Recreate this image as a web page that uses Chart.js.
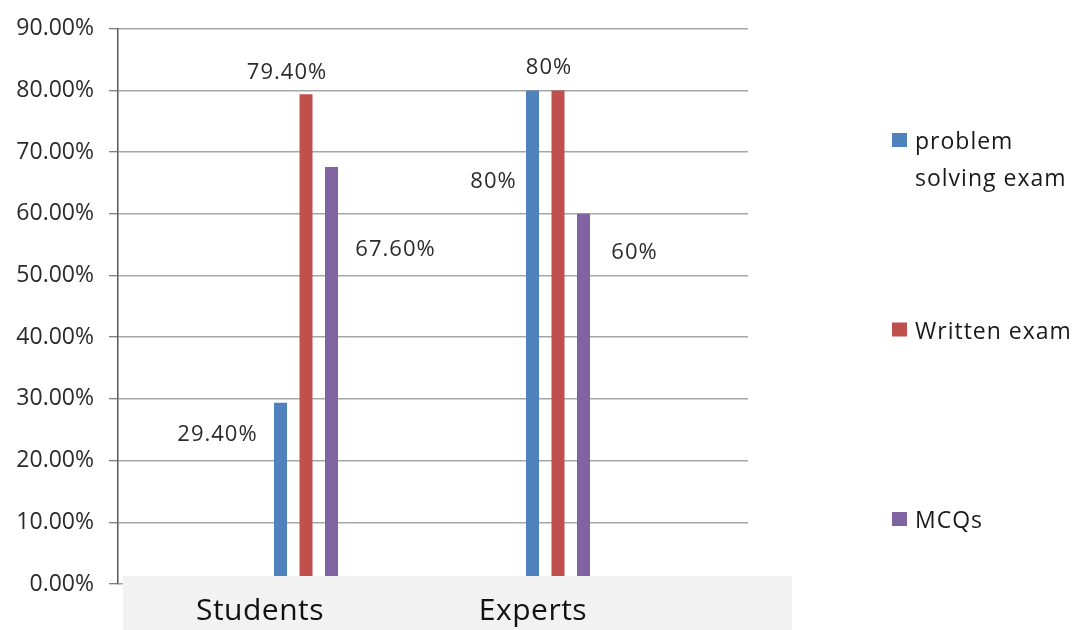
<!DOCTYPE html>
<html>
<head>
<meta charset="utf-8">
<script src="https://cdn.jsdelivr.net/npm/chart.js@4"></script>
<style>
  html, body { margin: 0; padding: 0; background: #fff; }
  #chart { display: block; }
</style>
</head>
<body>
<canvas id="chart" width="1080" height="630"></canvas>
<script>
// --- data ---
const categories = ['Students', 'Experts'];
const seriesNames = ['problem solving exam', 'Written exam', 'MCQs'];
const problemSolving = [29.4, 80];
const writtenExam = [79.4, 80];
const mcqs = [67.6, 60];
const yTicks = [0, 10, 20, 30, 40, 50, 60, 70, 80, 90];
const labelDecimals = [2, 0];   // Students shown as 29.40%, Experts as 80%

const seriesValues = [problemSolving, writtenExam, mcqs];
const seriesColors = ['#4f81bd', '#c0504d', '#8064a2'];

// label placement (px from bar top centre), manual as in the source chart
const labelOffsets = [
    [[-63, 30], [-39, 90]],
    [[-19, -23], [-9, -24]],
    [[64, 81], [51, 37]]
];
const catLabelOffsets = [-46, -25];

const FONT = '"Open Sans", "DejaVu Sans", sans-serif';

function drawText(ctx, txt, x, y, size, color, align, spacing) {
    ctx.save();
    ctx.font = size + 'px ' + FONT;
    ctx.fillStyle = color;
    ctx.textAlign = align;
    ctx.textBaseline = 'alphabetic';
    if (spacing) ctx.letterSpacing = spacing + 'px';
    ctx.fillText(txt, x, y);
    ctx.restore();
}

const valueLabels = {
    id: 'valueLabels',
    afterDatasetsDraw(chart) {
        const ctx = chart.ctx;
        chart.data.datasets.forEach((ds, di) => {
            const meta = chart.getDatasetMeta(di);
            meta.data.forEach((bar, ci) => {
                const v = seriesValues[di][ci];
                const txt = v.toFixed(labelDecimals[ci]) + '%';
                const off = labelOffsets[di][ci];
                drawText(ctx, txt, bar.x + off[0], bar.y + off[1] + 8, 22, '#2b2b2b', 'center', 1);
            });
        });
    }
};

// grey box pasted over the category axis, as in the reference
const categoryBox = {
    id: 'categoryBox',
    afterDraw(chart) {
        const ctx = chart.ctx;
        const xs = chart.scales.x;
        ctx.save();
        ctx.fillStyle = '#f2f2f2';
        ctx.fillRect(123, 576, 669, 54);
        ctx.restore();
        categories.forEach((c, i) => {
            drawText(ctx, c, xs.getPixelForValue(i) + catLabelOffsets[i], 620, 30, '#111', 'center', 0.5);
        });
    }
};

const sideLegend = {
    id: 'sideLegend',
    afterDraw(chart) {
        const ctx = chart.ctx;
        const left = 892, top = 133, step = 189.5, maxW = 165;
        chart.data.datasets.forEach((ds, i) => {
            const y = top + i * step;
            ctx.fillStyle = ds.backgroundColor;
            ctx.fillRect(left, y, 15, 14);
            // simple word wrap
            ctx.save();
            ctx.font = '23px ' + FONT;
            ctx.letterSpacing = '1px';
            const lines = [];
            let line = '';
            ds.label.split(' ').forEach(w => {
                const test = line ? line + ' ' + w : w;
                if (ctx.measureText(test).width > maxW && line) {
                    lines.push(line);
                    line = w;
                } else {
                    line = test;
                }
            });
            lines.push(line);
            ctx.restore();
            lines.forEach((l, k) => {
                drawText(ctx, l, left + 23, y + 16 + k * 37, 23, '#1a1a1a', 'left', 1);
            });
        });
    }
};

// x is a linear axis so the two groups sit where they do in the source
const xMin = -188 / 252;
const xMax = xMin + 630 / 252;

new Chart(document.getElementById('chart'), {
    type: 'bar',
    data: {
        datasets: seriesNames.map((name, i) => ({
            label: name,
            data: seriesValues[i].map((v, ci) => ({ x: ci, y: v })),
            backgroundColor: seriesColors[i],
            borderWidth: 0,
            categoryPercentage: 0.3036,
            barPercentage: 0.51
        }))
    },
    options: {
        responsive: false,
        animation: false,
        devicePixelRatio: 1,
        layout: { padding: { left: 0, top: 28, right: 332, bottom: 46 } },
        plugins: {
            legend: { display: false },
            tooltip: { enabled: false }
        },
        scales: {
            x: {
                type: 'linear',
                display: false,
                offset: false,
                bounds: 'data',
                grace: 0,
                min: xMin,
                max: xMax,
                afterDataLimits: (s) => { s.min = xMin; s.max = xMax; },
                afterBuildTicks: (s) => {
                    s.ticks = categories.map((c, i) => ({ value: i }));
                    s.min = xMin; s.max = xMax;
                }
            },
            y: {
                min: 0,
                max: 90,
                afterBuildTicks: (s) => { s.ticks = yTicks.map(v => ({ value: v })); },
                afterFit: (s) => { s.width = 118; },
                grid: {
                    color: '#a6a6a6',
                    lineWidth: 1.5,
                    tickLength: 9,
                    tickColor: '#595959',
                    tickWidth: 1
                },
                border: { display: true, color: '#595959', width: 1.5 },
                ticks: {
                    padding: 15,
                    color: '#2b2b2b',
                    font: { family: FONT, size: 23 },
                    callback: (v) => v.toFixed(2) + '%'
                }
            }
        }
    },
    plugins: [valueLabels, categoryBox, sideLegend]
});
</script>
</body>
</html>
